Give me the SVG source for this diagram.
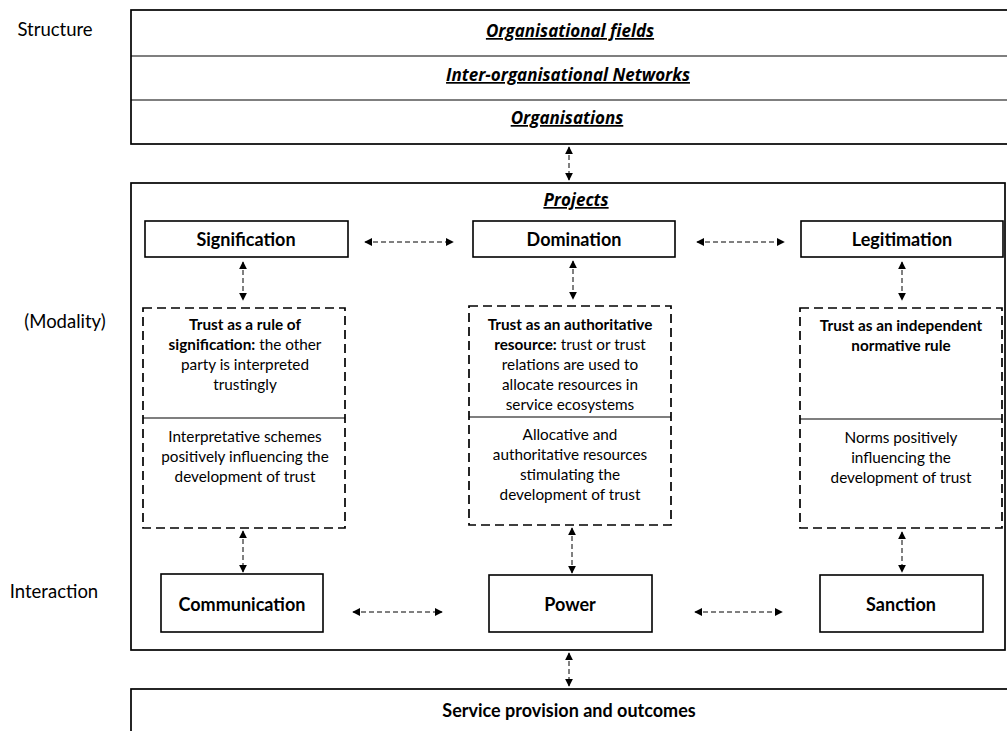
<svg xmlns="http://www.w3.org/2000/svg" width="1007" height="731" viewBox="0 0 1007 731">
<defs>
<marker id="ah" viewBox="0 0 10 10" refX="9" refY="5" markerWidth="8" markerHeight="8" markerUnits="userSpaceOnUse" orient="auto-start-reverse">
<path d="M0,0 L10,5 L0,10 z" fill="#000"/>
</marker>
<style>
text{font-family:Lato,"Open Sans","Liberation Sans",sans-serif;fill:#000}
.side{font-size:18.5px;text-anchor:middle}
.lvl{font-family:"Open Sans",Lato,sans-serif;font-size:17px;font-weight:bold;font-style:italic;text-decoration:underline;text-anchor:middle}
.hd{font-size:18px;font-weight:bold;text-anchor:middle}
.bx{font-size:15.3px;text-anchor:middle}
.b{font-weight:bold}
.outer{fill:#fff;stroke:#000;stroke-width:1.7}
.solid{fill:#fff;stroke:#000;stroke-width:1.6}
.dash{fill:none;stroke:#000;stroke-width:1.7;stroke-dasharray:9,5}
.div{stroke:#000;stroke-width:1.2}
.conn{stroke:#000;stroke-width:1;stroke-dasharray:5,3;fill:none;marker-start:url(#ah);marker-end:url(#ah)}
</style>
</defs>
<rect width="1007" height="731" fill="#fff"/>

<g id="side-labels">
<text class="side" x="55" y="36">Structure</text>
<text class="side" x="65" y="328">(Modality)</text>
<text class="side" x="54" y="598">Interaction</text>
</g>

<g id="structure">
<rect class="outer" x="131" y="10" width="880" height="134"/>
<line class="div" x1="131" y1="56" x2="1011" y2="56"/>
<line class="div" x1="131" y1="100" x2="1011" y2="100"/>
<text class="lvl" x="570" y="37">Organisational fields</text>
<text class="lvl" x="568" y="81">Inter-organisational Networks</text>
<text class="lvl" x="567" y="124">Organisations</text>
</g>

<g id="projects">
<rect class="outer" x="131" y="183" width="874" height="467"/>
<text class="lvl" x="576" y="206">Projects</text>
</g>

<g id="signification">
<rect class="solid" x="145" y="221" width="203" height="36"/>
<text class="hd" x="246" y="246">Signification</text>
</g>
<g id="domination">
<rect class="solid" x="473" y="221" width="202" height="36"/>
<text class="hd" x="574" y="246">Domination</text>
</g>
<g id="legitimation">
<rect class="solid" x="801" y="221" width="202" height="36"/>
<text class="hd" x="902" y="246">Legitimation</text>
</g>

<g id="trust-signification">
<rect class="dash" x="143" y="308" width="202" height="220"/>
<line class="div" x1="143" y1="418" x2="345" y2="418"/>
<text class="bx" x="245" y="330"><tspan class="b">Trust as a rule of</tspan><tspan x="245" dy="20"><tspan class="b">signification:</tspan> the other</tspan><tspan x="245" dy="20">party is interpreted</tspan><tspan x="245" dy="20">trustingly</tspan></text>
<text class="bx" x="245" y="442">Interpretative schemes<tspan x="245" dy="20">positively influencing the</tspan><tspan x="245" dy="20">development of trust</tspan></text>
</g>

<g id="trust-domination">
<rect class="dash" x="469" y="306" width="202" height="219"/>
<line class="div" x1="469" y1="417" x2="671" y2="417"/>
<text class="bx" x="570" y="330"><tspan class="b">Trust as an authoritative</tspan><tspan x="570" dy="20"><tspan class="b">resource:</tspan> trust or trust</tspan><tspan x="570" dy="20">relations are used to</tspan><tspan x="570" dy="20">allocate resources in</tspan><tspan x="570" dy="20">service ecosystems</tspan></text>
<text class="bx" x="570" y="440">Allocative and<tspan x="570" dy="20">authoritative resources</tspan><tspan x="570" dy="20">stimulating the</tspan><tspan x="570" dy="20">development of trust</tspan></text>
</g>

<g id="trust-legitimation">
<rect class="dash" x="800" y="308" width="202" height="220"/>
<line class="div" x1="800" y1="419" x2="1002" y2="419"/>
<text class="bx b" x="901" y="331">Trust as an independent<tspan x="901" dy="20">normative rule</tspan></text>
<text class="bx" x="901" y="443">Norms positively<tspan x="901" dy="20">influencing the</tspan><tspan x="901" dy="20">development of trust</tspan></text>
</g>

<g id="communication">
<rect class="solid" x="161" y="574" width="162" height="58"/>
<text class="hd" x="242" y="611">Communication</text>
</g>
<g id="power">
<rect class="solid" x="489" y="575" width="163" height="57"/>
<text class="hd" x="570" y="611">Power</text>
</g>
<g id="sanction">
<rect class="solid" x="820" y="575" width="163" height="57"/>
<text class="hd" x="901" y="611">Sanction</text>
</g>

<g id="service">
<rect class="outer" x="131" y="689" width="880" height="60"/>
<text class="hd" x="569" y="717">Service provision and outcomes</text>
</g>

<g id="connectors">
<line class="conn" x1="569" y1="147" x2="569" y2="180"/>
<line class="conn" x1="365" y1="242" x2="453" y2="242"/>
<line class="conn" x1="697" y1="242" x2="784" y2="242"/>
<line class="conn" x1="243" y1="262" x2="243" y2="300"/>
<line class="conn" x1="573" y1="261" x2="573" y2="299"/>
<line class="conn" x1="902" y1="262" x2="902" y2="300"/>
<line class="conn" x1="243" y1="531" x2="243" y2="572"/>
<line class="conn" x1="572" y1="528" x2="572" y2="573"/>
<line class="conn" x1="902" y1="532" x2="902" y2="572"/>
<line class="conn" x1="353" y1="612" x2="442" y2="612"/>
<line class="conn" x1="695" y1="612" x2="782" y2="612"/>
<line class="conn" x1="569" y1="653" x2="569" y2="686"/>
</g>
</svg>
